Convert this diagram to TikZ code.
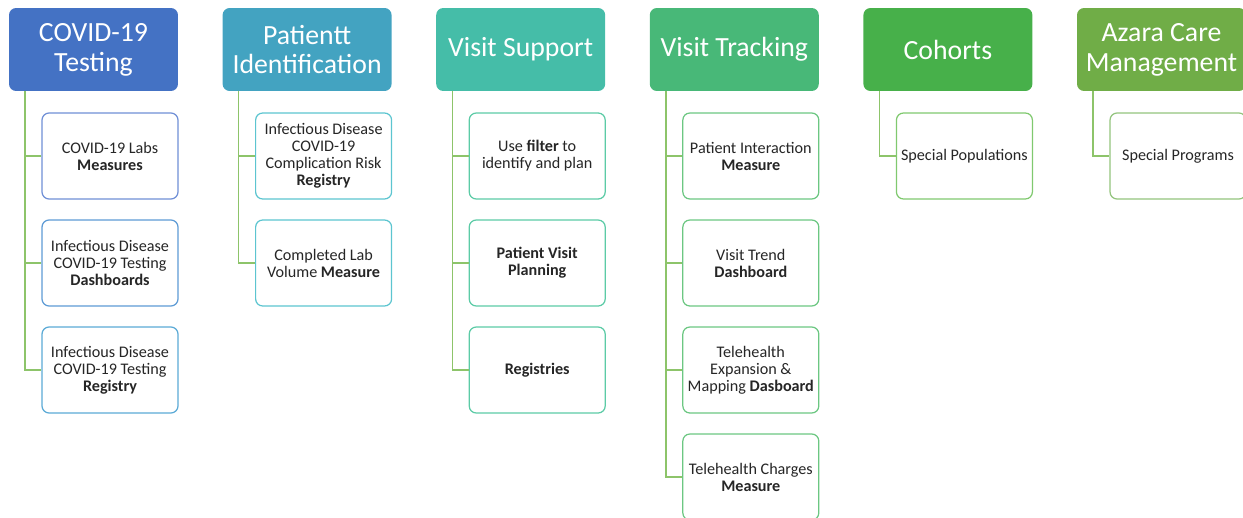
\documentclass[tikz,border=0pt]{standalone}
\usepackage{fontspec}
\setmainfont{Carlito}
\usepackage{tikz}
\usetikzlibrary{calc}
\definecolor{hdA}{HTML}{4472C4}
\definecolor{hdB}{HTML}{43A3C1}
\definecolor{hdC}{HTML}{45BDA8}
\definecolor{hdD}{HTML}{48B878}
\definecolor{hdE}{HTML}{47B04A}
\definecolor{hdF}{HTML}{70AD47}
\definecolor{bdA}{HTML}{6F8FD6}
\definecolor{bdAb}{HTML}{5D9BD5}
\definecolor{bdAc}{HTML}{5BAAD6}
\definecolor{bdB}{HTML}{5CC5D0}
\definecolor{bdC}{HTML}{5CCBA6}
\definecolor{bdD}{HTML}{6CC782}
\definecolor{bdE}{HTML}{80C96F}
\definecolor{bdF}{HTML}{93C47D}
\definecolor{linkc}{HTML}{8DC46A}
\definecolor{txtc}{HTML}{262626}
\tikzstyle{hdr} = [rounded corners=4pt,minimum width=3.38cm,minimum height=1.66cm,text=white,align=center,font=\fontsize{15.8}{17}\selectfont,inner sep=0pt]
\tikzstyle{item} = [draw,line width=0.7pt,rounded corners=4pt,fill=white,text=txtc,minimum width=2.72cm,minimum height=1.72cm,align=center,font=\fontsize{9.2}{9.7}\selectfont,inner sep=0pt]
\tikzstyle{link} = [draw=linkc,line width=0.8pt]

\begin{document}
\begin{tikzpicture}[x=0.02cm,y=-0.02cm]
\useasboundingbox (0,0) rectangle (1243,517);
\clip (0,0) rectangle (1243,517);

% Headers

    \def\sp{213.6}
    \def\hx{93.5}
    \node[hdr,fill=hdA] at (0*\sp+\hx,49.5) (cat1) {COVID-19\\Testing};
    \node[hdr,fill=hdB] at (1*\sp+\hx,49.5) (cat2) {Patientt\\Identification};
    \node[hdr,fill=hdC] at (2*\sp+\hx,49.5) (cat3) {Visit Support};
    \node[hdr,fill=hdD] at (3*\sp+\hx,49.5) (cat4) {Visit Tracking};
    \node[hdr,fill=hdE] at (4*\sp+\hx,49.5) (cat5) {Cohorts};
    \node[hdr,fill=hdF] at (5*\sp+\hx,49.5) (cat6) {Azara Care\\Management};

% Spines

    \def\lx{25}
    \coordinate (sp1) at (0*\sp+\lx,91);
    \coordinate (sp2) at (1*\sp+\lx,91);
    \coordinate (sp3) at (2*\sp+\lx,91);
    \coordinate (sp4) at (3*\sp+\lx,91);
    \coordinate (sp5) at (4*\sp+\lx,91);
    \coordinate (sp6) at (5*\sp+\lx,91);

% Items

    \def\ix{110}
    \node[item,draw=bdA] at (0*\sp+\ix,156) (c11) {COVID-19 Labs\\\textbf{Measures}};
    \node[item,draw=bdAb] at (0*\sp+\ix,263) (c12) {Infectious Disease\\COVID-19 Testing\\\textbf{Dashboards}};
    \node[item,draw=bdAc] at (0*\sp+\ix,370) (c13) {Infectious Disease\\COVID-19 Testing\\\textbf{Registry}};

    \node[item,draw=bdB] at (1*\sp+\ix,156) (c21) {Infectious Disease\\COVID-19\\Complication Risk\\\textbf{Registry}};
    \node[item,draw=bdB] at (1*\sp+\ix,263) (c22) {Completed Lab\\Volume \textbf{Measure}};

    \node[item,draw=bdC] at (2*\sp+\ix,156) (c31) {Use \textbf{filter} to\\identify and plan};
    \node[item,draw=bdC] at (2*\sp+\ix,263) (c32) {\textbf{Patient Visit}\\\textbf{Planning}};
    \node[item,draw=bdC] at (2*\sp+\ix,370) (c33) {\textbf{Registries}};

    \node[item,draw=bdD] at (3*\sp+\ix,156) (c41) {Patient Interaction\\\textbf{Measure}};
    \node[item,draw=bdD] at (3*\sp+\ix,263) (c42) {Visit Trend\\\textbf{Dashboard}};
    \node[item,draw=bdD] at (3*\sp+\ix,370) (c43) {Telehealth\\Expansion \&\\Mapping \textbf{Dasboard}};
    \node[item,draw=bdD] at (3*\sp+\ix,477) (c44) {Telehealth Charges\\\textbf{Measure}};

    \node[item,draw=bdE] at (4*\sp+\ix,156) (c51) {Special Populations};
    \node[item,draw=bdF] at (5*\sp+\ix,156) (c61) {Special Programs};

% Connectors

    \draw[link] (sp1) |- (c11.west);
    \draw[link] (sp1) |- (c12.west);
    \draw[link] (sp1) |- (c13.west);
    \draw[link] (sp2) |- (c21.west);
    \draw[link] (sp2) |- (c22.west);
    \draw[link] (sp3) |- (c31.west);
    \draw[link] (sp3) |- (c32.west);
    \draw[link] (sp3) |- (c33.west);
    \draw[link] (sp4) |- (c41.west);
    \draw[link] (sp4) |- (c42.west);
    \draw[link] (sp4) |- (c43.west);
    \draw[link] (sp4) |- (c44.west);
    \draw[link] (sp5) |- (c51.west);
    \draw[link] (sp6) |- (c61.west);

\end{tikzpicture}
\end{document}
